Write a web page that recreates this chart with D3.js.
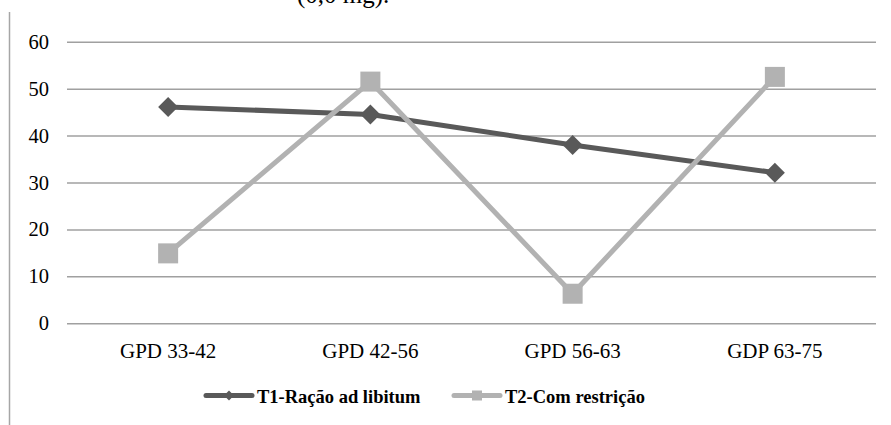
<!DOCTYPE html>
<html>
<head>
<meta charset="utf-8">
<script src="https://cdn.jsdelivr.net/npm/d3@7/dist/d3.min.js"></script>
<style>
  html, body { margin: 0; padding: 0; background: #fff; }
  svg { display: block; }
  svg text { font-family: "Liberation Serif", "Times New Roman", serif !important; fill: #000; }
</style>
</head>
<body>
<svg id="chart" width="891" height="425"></svg>
<script>
// Periods on the x axis
const categories = ["GPD 33-42", "GPD 42-56", "GPD 56-63", "GDP 63-75"];
// Series values
const t1Values = [46.1, 44.5, 38.0, 32.1];
const t2Values = [14.9, 51.5, 6.3, 52.5];
const seriesNames = ["T1-Ração ad libitum", "T2-Com restrição"];
const yTicks = [0, 10, 20, 30, 40, 50, 60];

const svg = d3.select("#chart");
const W = 891, H = 425;
const plot = { left: 67, right: 876, top: 41.7, bottom: 323.3 };

const x = d3.scaleBand().domain(categories).range([plot.left, plot.right]);
const y = d3.scaleLinear().domain([0, 60]).range([plot.bottom, plot.top]);

// caption line above the frame (cut off by the page edge)
svg.append("text").attr("x", 297).attr("y", 2.5)
  .style("font-size", "25px").text("(0,0 mg).");

// left frame border
svg.append("line").attr("x1", 9.5).attr("x2", 9.5).attr("y1", 12).attr("y2", H)
  .attr("stroke", "#a6a6a6").attr("stroke-width", 1.5);

// horizontal gridlines and value labels
const yAxis = d3.axisLeft(y).tickValues(yTicks).tickSize(-(plot.right - plot.left)).tickPadding(18);
const gy = svg.append("g").attr("transform", `translate(${plot.left},0)`).call(yAxis);
gy.select(".domain").remove();
gy.selectAll(".tick line").attr("stroke", "#a0a0a0").attr("stroke-width", 1.5);
gy.selectAll(".tick text").style("font-size", "20.5px").attr("fill", "#000");

// category labels
const xAxis = d3.axisBottom(x).tickSize(0).tickPadding(19.5);
const gx = svg.append("g").attr("transform", `translate(0,${plot.bottom})`).call(xAxis);
gx.select(".domain").remove();
gx.selectAll(".tick text").style("font-size", "21px").attr("fill", "#000");

const cx = c => x(c) + x.bandwidth() / 2;
const line = d3.line().x(d => cx(d.c)).y(d => y(d.v));
const t1 = categories.map((c, i) => ({ c, v: t1Values[i] }));
const t2 = categories.map((c, i) => ({ c, v: t2Values[i] }));

const dark = "#595959", light = "#b2b2b2";

svg.append("path").datum(t1).attr("d", line).attr("fill", "none")
  .attr("stroke", dark).attr("stroke-width", 5).attr("stroke-linejoin", "round");
svg.append("path").datum(t2).attr("d", line).attr("fill", "none")
  .attr("stroke", light).attr("stroke-width", 5).attr("stroke-linejoin", "round");

const diamond = s => `M0,${-s}L${s},0L0,${s}L${-s},0Z`;
svg.append("g").selectAll("path").data(t1).join("path")
  .attr("transform", d => `translate(${cx(d.c)},${y(d.v)})`)
  .attr("d", diamond(10)).attr("fill", dark);
svg.append("g").selectAll("rect").data(t2).join("rect")
  .attr("x", d => cx(d.c) - 10).attr("y", d => y(d.v) - 10)
  .attr("width", 20).attr("height", 20).attr("fill", light);

// legend
const legY = 395.5;
const leg = [
  { name: seriesNames[0], color: dark, x0: 206, marker: "diamond" },
  { name: seriesNames[1], color: light, x0: 454, marker: "square" }
];
leg.forEach(l => {
  svg.append("line").attr("x1", l.x0).attr("x2", l.x0 + 46).attr("y1", legY).attr("y2", legY)
    .attr("stroke", l.color).attr("stroke-width", 5).attr("stroke-linecap", "round");
  if (l.marker === "diamond") {
    svg.append("path").attr("transform", `translate(${l.x0 + 23},${legY})`)
      .attr("d", diamond(5)).attr("fill", l.color);
  } else {
    svg.append("rect").attr("x", l.x0 + 18).attr("y", legY - 5).attr("width", 10).attr("height", 10)
      .attr("fill", l.color);
  }
  svg.append("text").attr("x", l.x0 + 51).attr("y", 403)
    .style("font-size", "18.5px").style("font-weight", "bold").text(l.name);
});
</script>
</body>
</html>
